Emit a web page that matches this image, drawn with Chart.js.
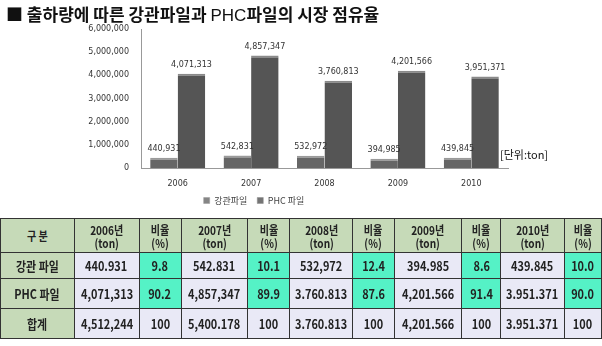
<!DOCTYPE html>
<html><head><meta charset="utf-8">
<script src="https://cdn.jsdelivr.net/npm/chart.js@4/dist/chart.umd.min.js"></script>
<style>
html,body{margin:0;padding:0;background:#fff;width:602px;height:346px;overflow:hidden;}
#title{position:absolute;left:6px;top:1px;font-family:"Noto Sans CJK KR";font-weight:bold;font-size:17px;color:#111;white-space:nowrap;letter-spacing:0px;}
#title .en{font-weight:normal;font-family:"Liberation Sans";}
#wrap{position:absolute;left:0;top:0;width:602px;height:221px;}
#unit{position:absolute;left:500px;top:146px;font-family:"Noto Sans CJK KR";font-size:11px;color:#111;}
table{position:absolute;left:0;top:218px;border-collapse:collapse;font-family:"Noto Sans CJK KR";font-weight:bold;color:#222;table-layout:fixed;}
td{border:1px solid #333;text-align:center;padding:0;font-size:13px;line-height:13px;white-space:nowrap;overflow:hidden;}
td span{display:inline-block;transform:scaleX(0.84);}
td.h{background:#c6dab8;font-size:12px;line-height:13px;}
td.d{background:#e9e9f6;}
td.p{background:#55f2c6;}
</style></head><body>
<div id="wrap"><canvas id="c"></canvas></div>
<div id="title">■ 출하량에 따른 강관파일과 <span class="en">PHC</span>파일의 시장 점유율</div>
<div id="unit">[단위:ton]</div>
<table id="tbl"></table>
<script>
const years = ['2006','2007','2008','2009','2010'];
const steelPile = [440931, 542831, 532972, 394985, 439845];
const phcPile = [4071313, 4857347, 3760813, 4201566, 3951371];
const yTicks = [0,1000000,2000000,3000000,4000000,5000000,6000000];
const seriesNames = ['강관파일','PHC 파일'];

// table text as printed in the source
const tableHeader = ['구 분','2006년\n(ton)','비율\n(%)','2007년\n(ton)','비율\n(%)','2008년\n(ton)','비율\n(%)','2009년\n(ton)','비율\n(%)','2010년\n(ton)','비율\n(%)'];
const rowNames = ['강관 파일','PHC 파일','합계'];
const steelTons = ['440.931','542.831','532,972','394.985','439.845'];
const steelPct = ['9.8','10.1','12.4','8.6','10.0'];
const phcTons = ['4,071,313','4,857,347','3.760.813','4,201.566','3.951.371'];
const phcPct = ['90.2','89.9','87.6','91.4','90.0'];
const totalTons = ['4,512,244','5,400.178','3.760.813','4,201.566','3.951.371'];
const totalPct = ['100','100','100','100','100'];

const colW = [75,65,43,67,43,57,42,68,40,60,38];
const rowH = [34,26,30,30];

(function buildTable(){
  const t = document.getElementById('tbl');
  const cg = document.createElement('colgroup');
  colW.forEach(w=>{const c=document.createElement('col');c.style.width=w+'px';cg.appendChild(c);});
  t.appendChild(cg);
  const cell = (tr, cls, txt) => {
    const td=document.createElement('td'); td.className=cls;
    const s=document.createElement('span'); s.innerHTML=txt.replace('\n','<br>');
    td.appendChild(s); tr.appendChild(td); return td;
  };
  const tr0 = document.createElement('tr'); tr0.style.height=rowH[0]+'px';
  tableHeader.forEach(h=>cell(tr0,'h',h));
  t.appendChild(tr0);
  const rows = [[steelTons,steelPct,true],[phcTons,phcPct,true],[totalTons,totalPct,false]];
  rows.forEach((r,i)=>{
    const tr=document.createElement('tr'); tr.style.height=rowH[i+1]+'px';
    cell(tr,'h',rowNames[i]).style.fontSize='13px';
    for(let k=0;k<5;k++){
      cell(tr,'d',r[0][k]);
      cell(tr,r[2]?'p':'d',r[1][k]);
    }
    t.appendChild(tr);
  });
})();

function barGrad(ctx, base, light){
  const chart = ctx.chart; const el = ctx.element;
  if(!el || !chart.chartArea) return base;
  const x0 = el.x - el.width/2, x1 = el.x + el.width/2;
  if(!isFinite(x0)) return base;
  const g = chart.ctx.createLinearGradient(x0,0,x1,0);
  g.addColorStop(0, light); g.addColorStop(0.15, base); g.addColorStop(0.85, base); g.addColorStop(1, light);
  return g;
}

const valueLabels = {
  id:'valueLabels',
  afterDatasetsDraw(chart){
    const ctx = chart.ctx;
    ctx.save();
    ctx.font = '8px "DejaVu Sans"';
    ctx.fillStyle = '#333';
    ctx.textAlign = 'center';
    ctx.textBaseline = 'bottom';
    chart.data.datasets.forEach((ds,di)=>{
      chart.getDatasetMeta(di).data.forEach((bar,i)=>{
        ctx.fillText(ds.data[i].toLocaleString('en-US'), bar.x, bar.y - 5);
      });
    });
    ctx.restore();
  }
};

new Chart(document.getElementById('c'), {
  type:'bar',
  data:{
    labels: years,
    datasets:[
      {label:seriesNames[0], data:steelPile, backgroundColor:(c)=>barGrad(c,'#666666','#858585'), borderColor:'#9a9a9a', borderWidth:{top:2,left:0,right:0,bottom:0}, borderSkipped:false},
      {label:seriesNames[1], data:phcPile, backgroundColor:(c)=>barGrad(c,'#555555','#747474'), borderColor:'#8a8a8a', borderWidth:{top:2,left:0,right:0,bottom:0}, borderSkipped:false}
    ]
  },
  options:{
    responsive:true, maintainAspectRatio:false, animation:false,
    layout:{padding:{top:29,right:94,left:0,bottom:6}},
    plugins:{
      legend:{position:'bottom',labels:{boxWidth:6,boxHeight:6,padding:10,color:'#444',font:{family:'"Noto Sans CJK KR"',size:9}}},
      tooltip:{enabled:false}
    },
    datasets:{bar:{categoryPercentage:0.75,barPercentage:1}},
    scales:{
      x:{afterFit(s){s.height=18;},grid:{display:false,drawTicks:false},border:{color:'#999'},ticks:{color:'#333',padding:11,font:{family:'"DejaVu Sans"',size:8}}},
      y:{min:0,max:6000000,afterFit(s){s.width=141;},afterBuildTicks(s){s.ticks=yTicks.map(v=>({value:v}));},
         grid:{display:false,drawTicks:false},border:{color:'#999'},
         ticks:{color:'#333',padding:12,font:{family:'"DejaVu Sans"',size:8},callback:v=>v.toLocaleString('en-US')}}
    }
  },
  plugins:[valueLabels]
});
</script>
</body></html>
